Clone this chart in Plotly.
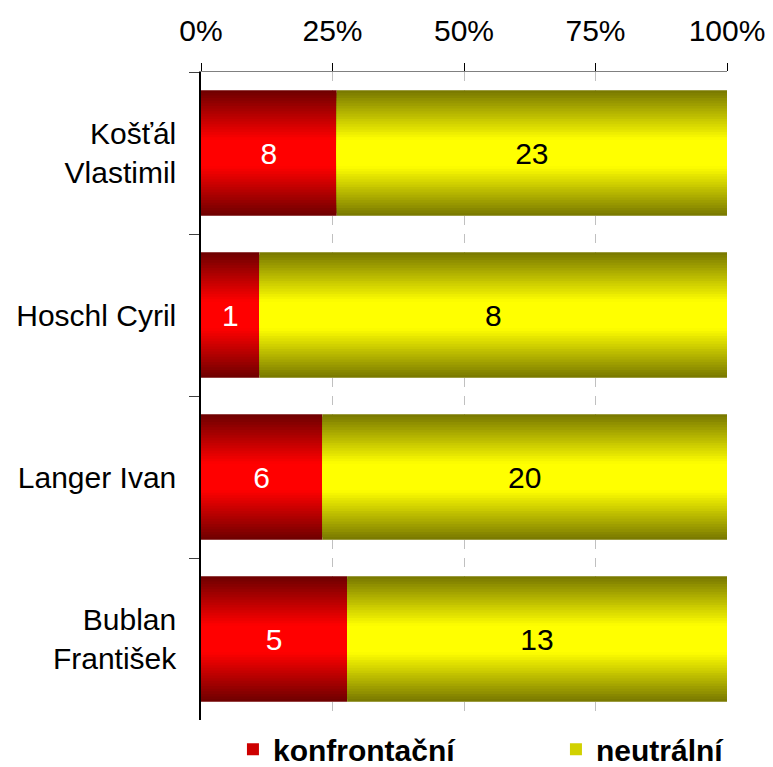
import plotly.graph_objects as go

categories = ["Košťál<br>Vlastimil", "Hoschl Cyril", "Langer Ivan", "Bublan<br>František"]
konfrontacni = [8, 1, 6, 5]
neutralni = [23, 8, 20, 13]
series_names = ["konfrontační", "neutrální"]
tick_vals = [0, 25, 50, 75, 100]
tick_text = ["0%", "25%", "50%", "75%", "100%"]

FONT = "Arial, Liberation Sans, sans-serif"
W = 0.775
N = 24

totals = [a + b for a, b in zip(konfrontacni, neutralni)]
pct_k = [a / t * 100 for a, t in zip(konfrontacni, totals)]
pct_n = [b / t * 100 for b, t in zip(neutralni, totals)]
base_k = [0] * len(categories)
base_n = pct_k

series = [
    dict(name=series_names[0], x=pct_k, base=base_k, vals=konfrontacni,
         dark=(112, 0, 0), bright=(255, 0, 0), tcolor="white"),
    dict(name=series_names[1], x=pct_n, base=base_n, vals=neutralni,
         dark=(122, 122, 0), bright=(255, 255, 0), tcolor="black"),
]


def mix(c1, c2, t):
    return "rgb(%d,%d,%d)" % tuple(round(a + (b - a) * t) for a, b in zip(c1, c2))


fig = go.Figure()
for s in series:
    for k in range(N):
        frac = k / (N - 1)
        t = min(1.0, frac / 0.8)
        w = W * (1 - k / N)
        fig.add_trace(go.Bar(
            y=categories, x=s["x"], base=s["base"], orientation="h",
            width=w, marker=dict(color=mix(s["dark"], s["bright"], t), line=dict(width=0)),
            name=s["name"], legendgroup=s["name"],
            showlegend=(k == N // 2), hoverinfo="skip",
        ))

for s in series:
    fig.add_trace(go.Bar(
        y=categories, x=s["x"], base=s["base"], orientation="h", width=W,
        marker=dict(color="rgba(0,0,0,0)", line=dict(width=0)),
        text=[str(v) for v in s["vals"]], textposition="inside",
        insidetextanchor="middle", constraintext="none",
        textfont=dict(family=FONT, size=30, color=s["tcolor"]),
        showlegend=False, hoverinfo="skip",
    ))

fig.update_layout(
    width=773, height=767,
    barmode="overlay",
    paper_bgcolor="white", plot_bgcolor="white",
    margin=dict(l=193, r=54, t=64, b=55, autoexpand=False),
    font=dict(family=FONT, size=30, color="black"),
    showlegend=True,
    legend=dict(
        orientation="h", x=-0.0001, xanchor="left", y=-0.045, yanchor="middle",
        font=dict(family=FONT, size=30, color="black", weight="bold"),
        entrywidth=246, entrywidthmode="pixels", indentation=32,
        bgcolor="rgba(0,0,0,0)", borderwidth=0,
    ),
    xaxis=dict(
        side="top", range=[0, 100], tickmode="array", tickvals=tick_vals, ticktext=tick_text,
        showgrid=True, gridcolor="#c0c0c0", griddash="dash", gridwidth=1,
        showline=True, linecolor="#808080", linewidth=1,
        ticks="outside", ticklen=8, tickcolor="black",
        tickfont=dict(family=FONT, size=30), zeroline=False,
        ticklabelstandoff=10, fixedrange=True,
    ),
    yaxis=dict(
        type="category", categoryorder="array", categoryarray=categories,
        autorange="reversed", tickson="boundaries",
        ticks="outside", ticklen=10, tickcolor="#404040",
        showline=True, linecolor="black", linewidth=1.5,
        showgrid=False, tickfont=dict(family=FONT, size=30),
        ticklabelstandoff=17,
    ),
)

fig.write_html("out.html")
